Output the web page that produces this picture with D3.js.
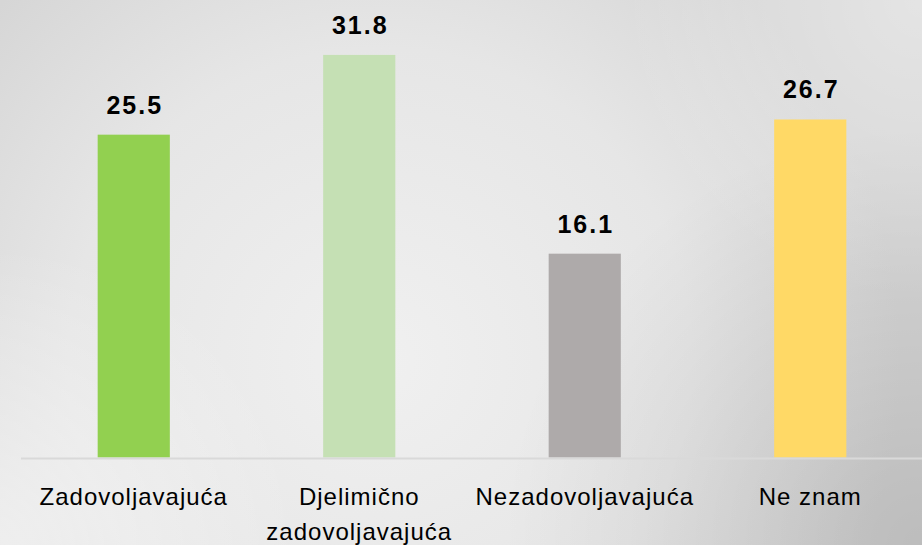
<!DOCTYPE html>
<html>
<head>
<meta charset="utf-8">
<script src="https://cdn.jsdelivr.net/npm/d3@7"></script>
<style>
  html, body { margin: 0; padding: 0; }
  svg { display: block; }
</style>
</head>
<body>
<svg id="viz" width="922" height="545"></svg>
<script>
// chart data
var categories = [["Zadovoljavajuća"], ["Djelimično", "zadovoljavajuća"], ["Nezadovoljavajuća"], ["Ne znam"]];
var values = [25.5, 31.8, 16.1, 26.7];
var colors = ["#92D050", "#C5E0B4", "#AEAAAA", "#FFD966"];

var width = 922, height = 545;
var svg = d3.select('#viz');
var defs = svg.append('defs');

// backdrop: light centre, darker lower-right corner, slightly lighter top-right
function radial(id, cx, cy, r, stops) {
  var g = defs.append('radialGradient')
    .attr('id', id)
    .attr('gradientUnits', 'userSpaceOnUse')
    .attr('cx', cx).attr('cy', cy).attr('r', r);
  stops.forEach(function(s) {
    g.append('stop').attr('offset', s[0]).attr('stop-color', s[1]).attr('stop-opacity', s[2]);
  });
  svg.append('rect').attr('width', width).attr('height', height).attr('fill', 'url(#' + id + ')');
}
radial('bg', 380, 360, 520, [['0%', '#f0f0f0', 1], ['60%', '#e6e6e6', 1], ['100%', '#d6d6d6', 1]]);
radial('shadeBR', 922, 545, 420, [['0%', '#000', 0.12], ['100%', '#000', 0]]);
radial('lightBL', 0, 545, 300, [['0%', '#fff', 0.5], ['100%', '#fff', 0]]);
radial('lightTR', 922, 0, 300, [['0%', '#fff', 0.35], ['100%', '#fff', 0]]);

var idx = d3.range(values.length);
var x = d3.scaleBand().domain(idx).range([21, 923]).paddingInner(0.68).paddingOuter(0.34);
var y = d3.scaleLinear().domain([0, 35]).range([457.5, 14.4]);

// bars
svg.selectAll('rect.bar')
  .data(idx)
  .enter()
  .append('rect')
  .attr('class', 'bar')
  .attr('x', function(i) { return x(i); })
  .attr('width', x.bandwidth())
  .attr('y', function(i) { return y(values[i]); })
  .attr('height', function(i) { return y(0) - y(values[i]); })
  .attr('fill', function(i) { return colors[i]; });

// baseline
svg.append('line')
  .attr('x1', 21).attr('x2', width)
  .attr('y1', y(0) + 1).attr('y2', y(0) + 1)
  .style('stroke', '#d9d9d9')
  .style('stroke-width', 2);

// value labels
svg.selectAll('text.value')
  .data(idx)
  .enter()
  .append('text')
  .attr('class', 'value')
  .attr('x', function(i) { return x(i) + x.bandwidth() / 2 + 1; })
  .attr('y', function(i) { return y(values[i]) - 21; })
  .attr('text-anchor', 'middle')
  .style('font-family', '"Liberation Sans", Arial, sans-serif')
  .style('font-weight', 'bold')
  .style('font-size', '25px')
  .style('letter-spacing', '2px')
  .style('fill', '#000')
  .text(function(i) { return values[i].toFixed(1); });

// category labels, multi-line
var cat = svg.selectAll('text.cat')
  .data(idx)
  .enter()
  .append('text')
  .attr('class', 'cat')
  .attr('text-anchor', 'middle')
  .style('font-family', '"Liberation Sans", Arial, sans-serif')
  .style('font-size', '24px')
  .style('letter-spacing', '1px')
  .style('fill', '#000');

cat.each(function(i) {
  var t = d3.select(this);
  categories[i].forEach(function(line, k) {
    t.append('tspan')
      .attr('x', x(i) + x.bandwidth() / 2)
      .attr('y', 505 + k * 35)
      .text(line);
  });
});
</script>
</body>
</html>
